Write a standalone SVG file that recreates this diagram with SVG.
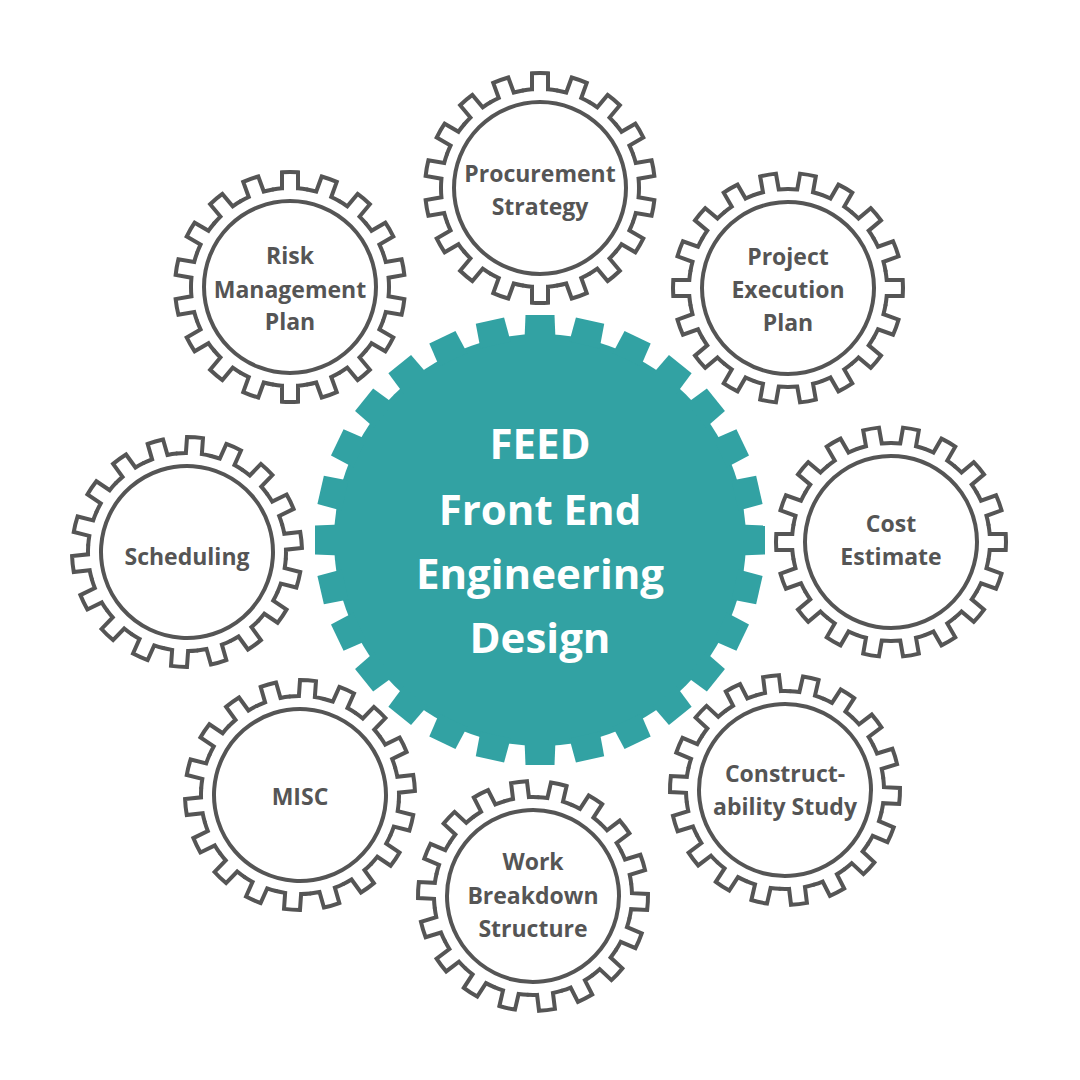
<svg xmlns="http://www.w3.org/2000/svg" xmlns:xlink="http://www.w3.org/1999/xlink" width="1080" height="1080" viewBox="0 0 1080 1080">
<style>
.lbl{font-family:"Open Sans","Noto Sans","Liberation Sans",sans-serif;font-weight:700;font-size:23px;fill:#555555;text-anchor:middle}
.main{font-family:"Open Sans","Noto Sans","Liberation Sans",sans-serif;font-weight:700;font-size:42px;fill:#ffffff;text-anchor:middle}
</style>
<defs>
<path id="tooth" d="M-17.19,-97.5 A99,99 0 0 1 -8,-98.68 L-8,-114.72 A115,115 0 0 1 8,-114.72 L8,-98.68 A99,99 0 0 1 17.19,-97.5"/>
<g id="gear18" fill="none" stroke="#555555" stroke-width="4" stroke-linecap="round" stroke-linejoin="miter">
<use href="#tooth" transform="rotate(0)"/>
<use href="#tooth" transform="rotate(20)"/>
<use href="#tooth" transform="rotate(40)"/>
<use href="#tooth" transform="rotate(60)"/>
<use href="#tooth" transform="rotate(80)"/>
<use href="#tooth" transform="rotate(100)"/>
<use href="#tooth" transform="rotate(120)"/>
<use href="#tooth" transform="rotate(140)"/>
<use href="#tooth" transform="rotate(160)"/>
<use href="#tooth" transform="rotate(180)"/>
<use href="#tooth" transform="rotate(200)"/>
<use href="#tooth" transform="rotate(220)"/>
<use href="#tooth" transform="rotate(240)"/>
<use href="#tooth" transform="rotate(260)"/>
<use href="#tooth" transform="rotate(280)"/>
<use href="#tooth" transform="rotate(300)"/>
<use href="#tooth" transform="rotate(320)"/>
<use href="#tooth" transform="rotate(340)"/>
<circle cx="0" cy="0" r="86"/>
</g>
<polygon id="bigtooth" points="-15.5,-200 -14.5,-225 14.5,-225 15.5,-200"/>
</defs>

<g id="center-feed">
<g fill="#32a2a3" transform="translate(540,540)">
<circle cx="0" cy="0" r="206"/>
<use href="#bigtooth" transform="rotate(0)"/>
<use href="#bigtooth" transform="rotate(12.857)"/>
<use href="#bigtooth" transform="rotate(25.714)"/>
<use href="#bigtooth" transform="rotate(38.571)"/>
<use href="#bigtooth" transform="rotate(51.429)"/>
<use href="#bigtooth" transform="rotate(64.286)"/>
<use href="#bigtooth" transform="rotate(77.143)"/>
<use href="#bigtooth" transform="rotate(90)"/>
<use href="#bigtooth" transform="rotate(102.857)"/>
<use href="#bigtooth" transform="rotate(115.714)"/>
<use href="#bigtooth" transform="rotate(128.571)"/>
<use href="#bigtooth" transform="rotate(141.429)"/>
<use href="#bigtooth" transform="rotate(154.286)"/>
<use href="#bigtooth" transform="rotate(167.143)"/>
<use href="#bigtooth" transform="rotate(180)"/>
<use href="#bigtooth" transform="rotate(192.857)"/>
<use href="#bigtooth" transform="rotate(205.714)"/>
<use href="#bigtooth" transform="rotate(218.571)"/>
<use href="#bigtooth" transform="rotate(231.429)"/>
<use href="#bigtooth" transform="rotate(244.286)"/>
<use href="#bigtooth" transform="rotate(257.143)"/>
<use href="#bigtooth" transform="rotate(270)"/>
<use href="#bigtooth" transform="rotate(282.857)"/>
<use href="#bigtooth" transform="rotate(295.714)"/>
<use href="#bigtooth" transform="rotate(308.571)"/>
<use href="#bigtooth" transform="rotate(321.429)"/>
<use href="#bigtooth" transform="rotate(334.286)"/>
<use href="#bigtooth" transform="rotate(347.143)"/>
</g>
<text class="main" x="540" y="459">FEED</text>
<text class="main" x="540" y="525">Front End</text>
<text class="main" x="540" y="589">Engineering</text>
<text class="main" x="540" y="653">Design</text>
</g>

<g id="procurement-strategy">
<use href="#gear18" transform="translate(540,188) rotate(0)"/>
<text class="lbl" x="540" y="182">Procurement</text>
<text class="lbl" x="540" y="215">Strategy</text>
</g>

<g id="project-execution-plan">
<use href="#gear18" transform="translate(788,288) rotate(10)"/>
<text class="lbl" x="788" y="265">Project</text>
<text class="lbl" x="788" y="298">Execution</text>
<text class="lbl" x="788" y="331">Plan</text>
</g>

<g id="cost-estimate">
<use href="#gear18" transform="translate(891,542) rotate(10)"/>
<text class="lbl" x="891" y="532">Cost</text>
<text class="lbl" x="891" y="565">Estimate</text>
</g>

<g id="constructability-study">
<use href="#gear18" transform="translate(785,790) rotate(-7)"/>
<text class="lbl" x="785" y="782">Construct-</text>
<text class="lbl" x="785" y="815">ability Study</text>
</g>

<g id="work-breakdown-structure">
<use href="#gear18" transform="translate(533,896) rotate(-7)"/>
<text class="lbl" x="533" y="870">Work</text>
<text class="lbl" x="533" y="904">Breakdown</text>
<text class="lbl" x="533" y="937">Structure</text>
</g>

<g id="misc">
<use href="#gear18" transform="translate(300,795) rotate(4)"/>
<text class="lbl" x="300" y="805">MISC</text>
</g>

<g id="scheduling">
<use href="#gear18" transform="translate(187,552) rotate(4)"/>
<text class="lbl" x="187" y="565">Scheduling</text>
</g>

<g id="risk-management-plan">
<use href="#gear18" transform="translate(290,287) rotate(0)"/>
<text class="lbl" x="290" y="264">Risk</text>
<text class="lbl" x="290" y="298">Management</text>
<text class="lbl" x="290" y="330">Plan</text>
</g>

<g id="connectors"></g>
</svg>
